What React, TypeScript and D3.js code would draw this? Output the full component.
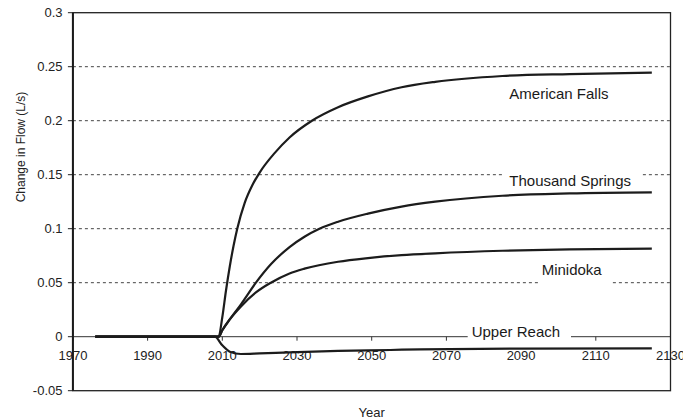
import React from "react";
import * as d3 from "d3";

// Simulated change in spring/reach flow after a 2008 change, by river reach
const americanFallsYears = [1976, 2008, 2009, 2010, 2011, 2012, 2013, 2014, 2016, 2018, 2020, 2024, 2028, 2034, 2041, 2049, 2058, 2067, 2085, 2103, 2125];
const americanFallsFlow = [0, 0, 0, 0.018, 0.043, 0.065, 0.084, 0.1, 0.124, 0.14, 0.152, 0.17, 0.1845, 0.2, 0.2125, 0.2225, 0.231, 0.236, 0.2414, 0.2432, 0.2445];

const thousandSpringsYears = [1976, 2008, 2009, 2010, 2012, 2015, 2019, 2023, 2028, 2032, 2036, 2041, 2049, 2058, 2067, 2085, 2103, 2125];
const thousandSpringsFlow = [0, 0, 0, 0.006, 0.016, 0.03, 0.05, 0.067, 0.083, 0.0926, 0.1, 0.1065, 0.114, 0.1205, 0.125, 0.1305, 0.1327, 0.1337];

const minidokaYears = [1976, 2008, 2009, 2010, 2012, 2015, 2019, 2023, 2028, 2032, 2041, 2049, 2058, 2067, 2085, 2103, 2125];
const minidokaFlow = [0, 0, 0, 0.006, 0.016, 0.028, 0.041, 0.05, 0.0586, 0.063, 0.0694, 0.0728, 0.0755, 0.0772, 0.0796, 0.0809, 0.0815];

const upperReachYears = [1976, 2008, 2010, 2012, 2015, 2020, 2028, 2041, 2055, 2063, 2090, 2125];
const upperReachFlow = [0, 0, -0.008, -0.0139, -0.016, -0.0155, -0.0145, -0.0132, -0.0123, -0.0117, -0.011, -0.0108];

const yTicks = [0.3, 0.25, 0.2, 0.15, 0.1, 0.05, 0, -0.05];
const yTickLabels = ["0.3", "0.25", "0.2", "0.15", "0.1", "0.05", "0", "-0.05"];
const gridValues = [0.25, 0.2, 0.15, 0.1, 0.05];
const xTicks = [1970, 1990, 2010, 2030, 2050, 2070, 2090, 2110, 2130];

const FONT = "'Liberation Sans', Arial, Helvetica, sans-serif";
const INK = "#1c1c1c";

const W = 683;
const H = 419;
const left = 72.9;
const right = 670.5;
const top = 12.7;
const bottom = 390.7;

export default function App() {
  const x = d3.scaleLinear().domain([1970, 2130]).range([left, right]);
  const y = d3.scaleLinear().domain([-0.05, 0.3]).range([bottom, top]);
  const y0 = y(0);

  const line = d3
    .line<[number, number]>()
    .x((d) => x(d[0]))
    .y((d) => y(d[1]))
    .curve(d3.curveMonotoneX);

  const series = [
    { years: americanFallsYears, values: americanFallsFlow },
    { years: thousandSpringsYears, values: thousandSpringsFlow },
    { years: minidokaYears, values: minidokaFlow },
    { years: upperReachYears, values: upperReachFlow },
  ];

  // Series labels sit on white patches that hide the grid beneath them
  const labels = [
    { text: "American Falls", x: 509.3, y: 99, box: null as null | number[] },
    { text: "Thousand Springs", x: 509.3, y: 185.5, box: [504, 171, 136, 18] },
    { text: "Minidoka", x: 541.7, y: 275, box: [538, 263, 72, 22] },
    { text: "Upper Reach", x: 471.7, y: 336.5, box: [467.7, 321, 103.3, 20.5] },
  ];

  return (
    <svg
      width={W}
      height={H}
      style={{ position: "absolute", left: 0, top: 0, background: "#fff" }}
      fontFamily={FONT}
    >
      <rect x={0} y={0} width={W} height={H} fill="#fff" />

      {gridValues.map((v) => (
        <line
          key={"g" + v}
          x1={left}
          x2={right}
          y1={y(v)}
          y2={y(v)}
          stroke="#444"
          strokeWidth={1}
          strokeDasharray="3,3"
        />
      ))}

      {/* zero line acting as the year axis */}
      <line x1={left} x2={right} y1={y0} y2={y0} stroke="#333" strokeWidth={1} />
      {xTicks.map((t) => (
        <g key={"x" + t}>
          <line x1={x(t)} x2={x(t)} y1={y0} y2={y0 + 4} stroke="#333" strokeWidth={1} />
          <text x={x(t)} y={y0 + 23.5} textAnchor="middle" fontSize={13} fill="#222">
            {t}
          </text>
        </g>
      ))}

      {yTicks.map((t, i) => (
        <g key={"y" + t}>
          <line x1={left - 5} x2={left} y1={y(t)} y2={y(t)} stroke="#222" strokeWidth={1} />
          <text x={62.5} y={y(t) + 4.5} textAnchor="end" fontSize={13} fill="#222">
            {yTickLabels[i]}
          </text>
        </g>
      ))}

      {series.map((s, i) => (
        <path
          key={"s" + i}
          d={line(s.years.map((yr, j) => [yr, s.values[j]] as [number, number])) || ""}
          fill="none"
          stroke={INK}
          strokeWidth={2.2}
          strokeLinejoin="round"
        />
      ))}

      {labels.map((l) =>
        l.box ? (
          <rect key={"b" + l.text} x={l.box[0]} y={l.box[1]} width={l.box[2]} height={l.box[3]} fill="#fff" />
        ) : null
      )}
      {labels.map((l) => (
        <text key={"l" + l.text} x={l.x} y={l.y} fontSize={15} fill="#1a1a1a">
          {l.text}
        </text>
      ))}

      {/* plot frame */}
      <rect
        x={left}
        y={top}
        width={right - left}
        height={bottom - top}
        fill="none"
        stroke="#222"
        strokeWidth={1.3}
      />
      <line x1={left} x2={left} y1={top} y2={bottom} stroke="#1a1a1a" strokeWidth={2} />

      <text
        transform={`translate(20.7,147) rotate(-90)`}
        textAnchor="middle"
        dominantBaseline="central"
        fontSize={12}
        fill="#222"
      >
        Change in Flow (L/s)
      </text>
      <text x={(left + right) / 2} y={417} textAnchor="middle" fontSize={13} fill="#222">
        Year
      </text>
    </svg>
  );
}
